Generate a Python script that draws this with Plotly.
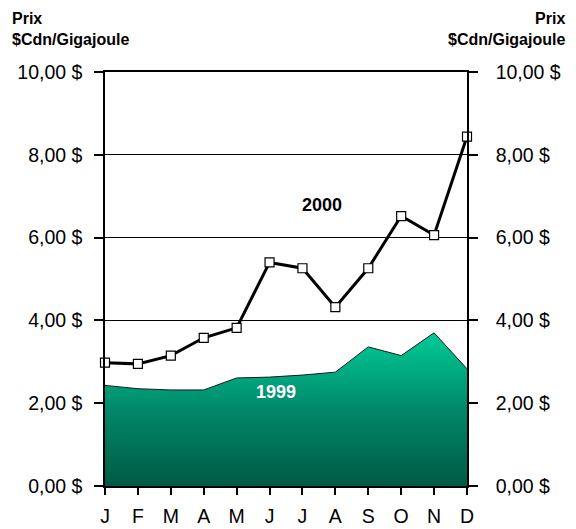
import plotly.graph_objects as go

months = ["Janv", "Févr", "Mars", "Avr", "Mai", "Juin", "Juil", "Août", "Sept", "Oct", "Nov", "Déc"]
month_labels = ["J", "F", "M", "A", "M", "J", "J", "A", "S", "O", "N", "D"]
prix_1999 = [2.43, 2.35, 2.32, 2.32, 2.61, 2.63, 2.68, 2.75, 3.36, 3.15, 3.70, 2.83]
prix_2000 = [2.98, 2.95, 3.15, 3.58, 3.82, 5.40, 5.26, 4.32, 5.26, 6.52, 6.06, 8.44]
y_ticks = [0, 2, 4, 6, 8, 10]
y_tick_labels = ["0,00 $", "2,00 $", "4,00 $", "6,00 $", "8,00 $", "10,00 $"]

FONT = "Liberation Sans, Arial, sans-serif"

fig = go.Figure()
fig.add_trace(go.Scatter(
    x=months, y=prix_1999, mode="lines", fill="tozeroy",
    line=dict(color="#1a1a1a", width=1),
    fillgradient=dict(type="vertical", start=0, stop=max(prix_1999),
                      colorscale=[[0, "#005a44"], [0.5, "#00886a"], [1, "#00cc98"]]),
    showlegend=False, hoverinfo="skip"))
fig.add_trace(go.Scatter(
    x=months, y=prix_2000, mode="lines+markers",
    line=dict(color="black", width=3),
    marker=dict(symbol="square", size=9, color="white", line=dict(color="black", width=1.2)),
    showlegend=False, cliponaxis=False))

axis_common = dict(range=[0, 10], tickvals=y_ticks, ticktext=y_tick_labels,
                   showline=True, linecolor="black", linewidth=1.5,
                   ticks="outside", ticklen=9, tickcolor="black", tickwidth=1.5,
                   tickfont=dict(family=FONT, size=19.5, color="black"),
                   zeroline=False, fixedrange=True, automargin=False)

# the page adds an 8px body margin; the figure is sized so that the plot area
# lands at x 105..467, y 72..486 in the 576x529 window
fig.update_layout(
    width=568, height=521,
    margin=dict(l=97, r=109, t=64, b=43, autoexpand=False),
    paper_bgcolor="white", plot_bgcolor="white",
    font=dict(family=FONT, color="black"),
    xaxis=dict(type="category", categoryorder="array", categoryarray=months,
               range=[0, 11], tickvals=months, ticktext=month_labels,
               showline=True, linecolor="black", linewidth=1.5, mirror=True,
               ticks="outside", ticklen=7, tickcolor="black", tickwidth=1.5,
               tickfont=dict(family=FONT, size=19.5, color="black"),
               ticklabelstandoff=5, showgrid=False, zeroline=False,
               automargin=False),
    yaxis=dict(**axis_common, showgrid=True, gridcolor="black", gridwidth=1.2,
               ticklabelstandoff=8),
    yaxis2=dict(**axis_common, overlaying="y", side="right", showgrid=False,
                ticklabelstandoff=14),
    annotations=[
        dict(text="<b>Prix<br>$Cdn/Gigajoule</b>", xref="paper", yref="paper",
             x=-0.262, y=1.155, xanchor="left", yanchor="top", align="left",
             showarrow=False, font=dict(family=FONT, size=16, color="black")),
        dict(text="<b>Prix<br>$Cdn/Gigajoule</b>", xref="paper", yref="paper",
             x=1.275, y=1.155, xanchor="right", yanchor="top", align="right",
             showarrow=False, font=dict(family=FONT, size=16, color="black")),
        dict(text="<b>2000</b>", x=6.6, y=6.79, xref="x", yref="y",
             showarrow=False, font=dict(family=FONT, size=18, color="black")),
        dict(text="<b>1999</b>", x=5.2, y=2.27, xref="x", yref="y",
             showarrow=False, font=dict(family=FONT, size=18, color="white")),
    ],
)
# invisible trace so the right axis is drawn
fig.add_trace(go.Scatter(x=months, y=prix_2000, yaxis="y2", mode="none",
                         showlegend=False, hoverinfo="skip"))

fig.write_html("out.html")
